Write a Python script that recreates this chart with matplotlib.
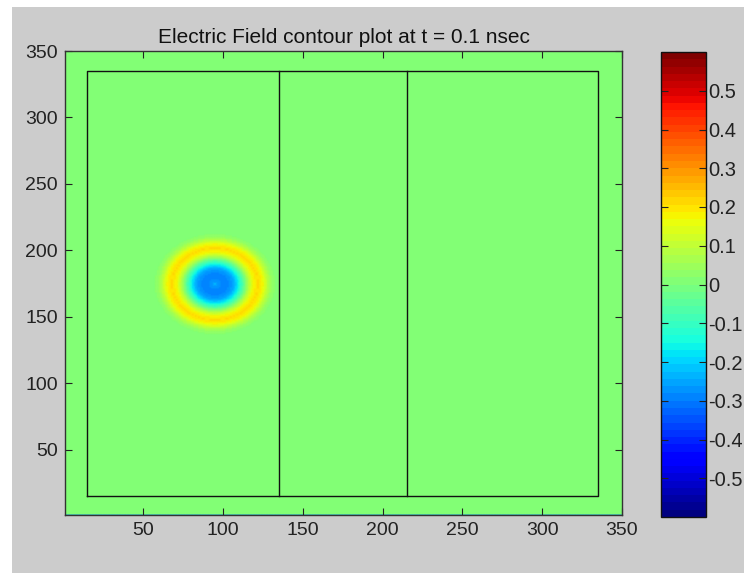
import numpy as np
import matplotlib
matplotlib.use("Agg")
import matplotlib.pyplot as plt
from matplotlib.patches import Rectangle

# grid of the simulation (cells 1..350 in both directions)
nx = 350
ny = 350

# pulse centre and the radial profile
pulse_x = 95
pulse_y = 175
radius_units = [0, 2, 5, 9, 12, 15, 18, 21, 24, 27, 30, 33, 36, 40]
profile_vals = [-0.22, -0.27, -0.29, -0.28, -0.24, -0.15, -0.04, 0.08, 0.17, 0.21, 0.17, 0.09, 0.03, 0.0]
bottom_row_val = -0.3

# box outline and the two dividers
box_x = [15, 335, 335, 15, 15]
box_y = [15, 15, 335, 335, 15]
divider_x = [135, 215]
divider_y = [15, 335]

xticks = [50, 100, 150, 200, 250, 300, 350]
yticks = [50, 100, 150, 200, 250, 300, 350]
cticks = [-0.5, -0.4, -0.3, -0.2, -0.1, 0, 0.1, 0.2, 0.3, 0.4, 0.5]
clim = (-0.6, 0.6)

x = np.arange(1, nx + 1)
y = np.arange(1, ny + 1)
X, Y = np.meshgrid(x, y)
R = np.hypot(X - pulse_x, Y - pulse_y)
Ez = np.interp(R, radius_units, profile_vals)
Ez[0, :] = bottom_row_val

plt.rcParams['font.family'] = ['Liberation Sans', 'DejaVu Sans']
plt.rcParams['font.size'] = 14

fig = plt.figure(figsize=(7.44, 5.73), dpi=100, facecolor='white')
gray = '#cccccc'
# grey figure area, leaving the thin white strip on the top and left
fig.patches.append(Rectangle((12 / 744, 0), 1, 1 - 7 / 573, transform=fig.transFigure,
                             facecolor=gray, edgecolor='none', zorder=-10))

ax = fig.add_axes([65 / 744, 58 / 573, 557 / 744, 464 / 573])
cmap = plt.get_cmap('jet', 64)
mesh = ax.pcolormesh(X, Y, Ez, cmap=cmap, vmin=clim[0], vmax=clim[1], shading='gouraud')
ax.plot(box_x, box_y, color='#111111', lw=1.0)
for dx in divider_x:
    ax.plot([dx, dx], divider_y, color='#111111', lw=1.0)

ax.set_xlim(1, 350)
ax.set_ylim(1, 350)
ax.set_xticks(xticks)
ax.set_yticks(yticks)
ax.tick_params(direction='in', top=True, right=True, length=5, width=0.8, colors='#222222', pad=5)
for s in ax.spines.values():
    s.set_color('#333333')
    s.set_linewidth(1.0)
ax.set_title('Electric Field contour plot at t = 0.1 nsec', fontsize=15, pad=6, color='#111111')

cax = fig.add_axes([661 / 744, 56 / 573, 45 / 744, 465 / 573])
cb = fig.colorbar(mesh, cax=cax, ticks=cticks)
cb.ax.set_yticklabels([('%g' % t) for t in cticks])
cb.ax.tick_params(direction='in', left=True, right=True, length=5, width=0.8, colors='#222222',
                  pad=1.5, labelsize=14.5)
cb.outline.set_edgecolor('#111111')
cb.outline.set_linewidth(1.0)

fig.savefig('out.png', dpi=100, facecolor=fig.get_facecolor())
